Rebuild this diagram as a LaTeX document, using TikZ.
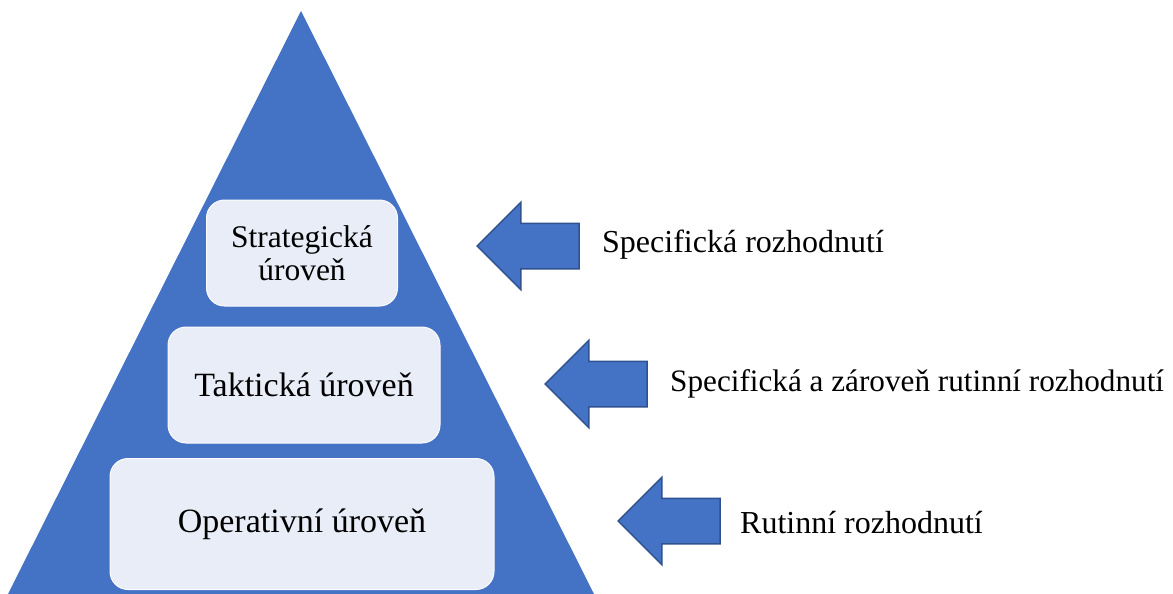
\documentclass[tikz,border=0pt]{standalone}
\usepackage{fontspec}
\setmainfont{Liberation Serif}
\usetikzlibrary{shapes.arrows}
\definecolor{pyrblue}{HTML}{4472C4}
\definecolor{pyrdark}{HTML}{2F528F}
\definecolor{levelfill}{HTML}{E9EDF7}

\begin{document}
\begin{tikzpicture}[
    x=1pt, y=-1pt,
    level/.style={draw=white!80!levelfill, line width=1pt, fill=levelfill, rounded corners=18pt, font=\fontsize{34}{36}\selectfont, align=center, inner sep=0pt},
    pointer/.style={single arrow, fill=pyrblue, draw=pyrdark, line width=1.5pt, minimum height=102pt, inner xsep=0pt, inner ysep=22pt, single arrow head extend=21pt, shape border rotate=180, anchor=tip},
    note/.style={anchor=base west, font=\fontsize{32}{34}\selectfont, inner sep=0pt},
]
\useasboundingbox (0,0) rectangle (1173,594);

% pyramid
\fill[pyrblue] (301,11) -- (594,594) -- (8,594) -- cycle;

\node[level, minimum width=191pt, minimum height=106pt, font=\fontsize{31.5}{32}\selectfont] (strat) at (302,253) {Strategická\\[1pt]úroveň};
\node[level, minimum width=272pt, minimum height=116pt] (takt) at (304,385) {Taktická úroveň};
\node[level, minimum width=384pt, minimum height=131pt] (oper) at (302,524) {Operativní úroveň};

% arrows pointing at the levels
\node[pointer] (a1) at (476,246) {};
\node[pointer] (a2) at (544,384) {};
\node[pointer] (a3) at (617,521) {};

\node[note] (n1) at (602,252) {Specifická rozhodnutí};
\node[note, font=\fontsize{31.2}{34}\selectfont] (n2) at (670,391) {Specifická a zároveň rutinní rozhodnutí};
\node[note] (n3) at (740,533) {Rutinní rozhodnutí};

\end{tikzpicture}
\end{document}
